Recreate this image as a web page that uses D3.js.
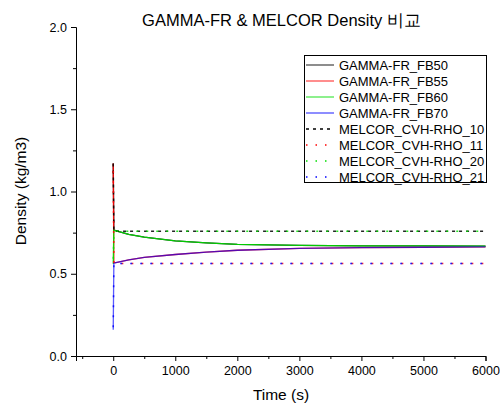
<!DOCTYPE html>
<html>
<head>
<meta charset="utf-8">
<script src="https://cdn.jsdelivr.net/npm/d3@7"></script>
<style>
  body { margin: 0; background: #fff; }
  svg { font-family: "Liberation Sans", Arial, sans-serif; }
</style>
</head>
<body>
<div id="chart"></div>
<script>
// series data (time in s, density in kg/m3)
var gammaNames = ["GAMMA-FR_FB50", "GAMMA-FR_FB55", "GAMMA-FR_FB60", "GAMMA-FR_FB70"];
var melcorNames = ["MELCOR_CVH-RHO_10", "MELCOR_CVH-RHO_11", "MELCOR_CVH-RHO_20", "MELCOR_CVH-RHO_21"];
var lineColors = ["#000000", "#ff0000", "#00dd00", "#0000ff"];

var timeGamma = [0, 10, 250, 500, 1000, 1500, 2000, 3000, 4000, 5000, 6000];
var fb50 = [1.17, 0.765, 0.74, 0.722, 0.70, 0.688, 0.679, 0.672, 0.670, 0.669, 0.668];
var fb55 = [1.17, 0.565, 0.585, 0.60, 0.617, 0.632, 0.643, 0.654, 0.659, 0.661, 0.663];
var fb60 = [0.56, 0.765, 0.74, 0.722, 0.70, 0.688, 0.679, 0.672, 0.670, 0.669, 0.668];
var fb70 = [0.16, 0.565, 0.585, 0.60, 0.617, 0.632, 0.643, 0.654, 0.659, 0.661, 0.663];

var timeMelcor = [0, 10, 6000];
var rho10 = [1.17, 0.758, 0.758];
var rho11 = [1.17, 0.562, 0.562];
var rho20 = [0.56, 0.758, 0.758];
var rho21 = [0.16, 0.562, 0.562];

var xTicks = [0, 1000, 2000, 3000, 4000, 5000, 6000];
var yTicks = [0.0, 0.5, 1.0, 1.5, 2.0];

var width = 500, height = 405;
var margin = {top: 27, right: 15, bottom: 49, left: 76};

var svg = d3.select("#chart").append("svg")
  .attr("width", width)
  .attr("height", height);

var x = d3.scaleLinear().domain([-600, 6000]).range([margin.left, 485.5]);
var y = d3.scaleLinear().domain([0, 2]).range([356, 27]);

// axes with minor ticks
var xMinor = d3.range(-500, 6000, 1000);
var yMinor = d3.range(0.25, 2, 0.5);

var gx = svg.append("g").attr("transform", "translate(0,356)");
gx.call(d3.axisBottom(x).tickValues(xTicks).tickFormat(d3.format("d")).tickSizeOuter(0).tickSize(5).tickPadding(5));
gx.append("g").call(d3.axisBottom(x).tickValues(xMinor).tickFormat("").tickSize(3).tickSizeOuter(0))
  .select(".domain").remove();

var gy = svg.append("g").attr("transform", "translate(" + margin.left + ",0)");
gy.call(d3.axisLeft(y).tickValues(yTicks).tickFormat(d3.format(".1f")).tickSizeOuter(0).tickSize(5).tickPadding(4));
gy.append("g").call(d3.axisLeft(y).tickValues(yMinor).tickFormat("").tickSize(3).tickSizeOuter(0))
  .select(".domain").remove();

svg.selectAll(".tick text").attr("font-size", 12.5).attr("font-family", "Liberation Sans, Arial, sans-serif").attr("fill", "#000");
svg.selectAll(".domain, .tick line").attr("stroke", "#000").attr("stroke-width", 1);

var line = d3.line()
  .x(function (d) { return x(d[0]); })
  .y(function (d) { return y(d[1]); });

var plot = svg.append("g");

//gamma lines, solid
[fb50, fb55, fb60, fb70].forEach(function (vals, i) {
  plot.append("path")
    .datum(timeGamma.map(function (t, j) { return [t, vals[j]]; }))
    .attr("fill", "none")
    .attr("stroke", lineColors[i])
    .attr("stroke-width", 1.3)
    .attr("stroke-opacity", i == 3 ? 0.65 : 0.9)
    .attr("d", line);
});

//melcor lines, dotted
[rho10, rho11, rho20, rho21].forEach(function (vals, i) {
  plot.append("path")
    .datum(timeMelcor.map(function (t, j) { return [t, vals[j]]; }))
    .attr("fill", "none")
    .attr("stroke", lineColors[i])
    .attr("stroke-width", 1.5)
    .attr("stroke-dasharray", i == 0 ? "3,4" : "2,8")
    .attr("stroke-dashoffset", i * 2.5)
    .attr("stroke-opacity", 0.85)
    .attr("d", line);
});

// title and axis labels
svg.append("text")
  .attr("x", 281.5).attr("y", 26)
  .attr("text-anchor", "middle")
  .attr("font-size", 16.5)
  .text("GAMMA-FR & MELCOR Density 비교");

svg.append("text")
  .attr("x", 281).attr("y", 400)
  .attr("text-anchor", "middle")
  .attr("font-size", 15.5)
  .text("Time (s)");

svg.append("text")
  .attr("transform", "translate(26,191) rotate(-90)")
  .attr("text-anchor", "middle")
  .attr("font-size", 15.5)
  .text("Density (kg/m3)");

// legend
var legend = svg.append("g");
legend.append("rect")
  .attr("x", 304.5).attr("y", 55.5)
  .attr("width", 182).attr("height", 127)
  .attr("fill", "#fff").attr("stroke", "#000").attr("stroke-width", 1);

var allNames = gammaNames.concat(melcorNames);
allNames.forEach(function (name, i) {
  var ly = 65 + i * 16;
  var k = i % 4;
  legend.append("line")
    .attr("x1", 306).attr("x2", 334)
    .attr("y1", ly).attr("y2", ly)
    .attr("stroke", lineColors[k])
    .attr("stroke-width", i < 4 ? 1.2 : 1.5)
    .attr("stroke-opacity", i < 4 ? 0.75 : 1)
    .attr("stroke-dasharray", i < 4 ? null : (i == 4 ? "3,4" : "1.5,8"));
  legend.append("text")
    .attr("x", 339).attr("y", ly + 4.5)
    .attr("font-size", 13)
    .text(name);
});
</script>
</body>
</html>
